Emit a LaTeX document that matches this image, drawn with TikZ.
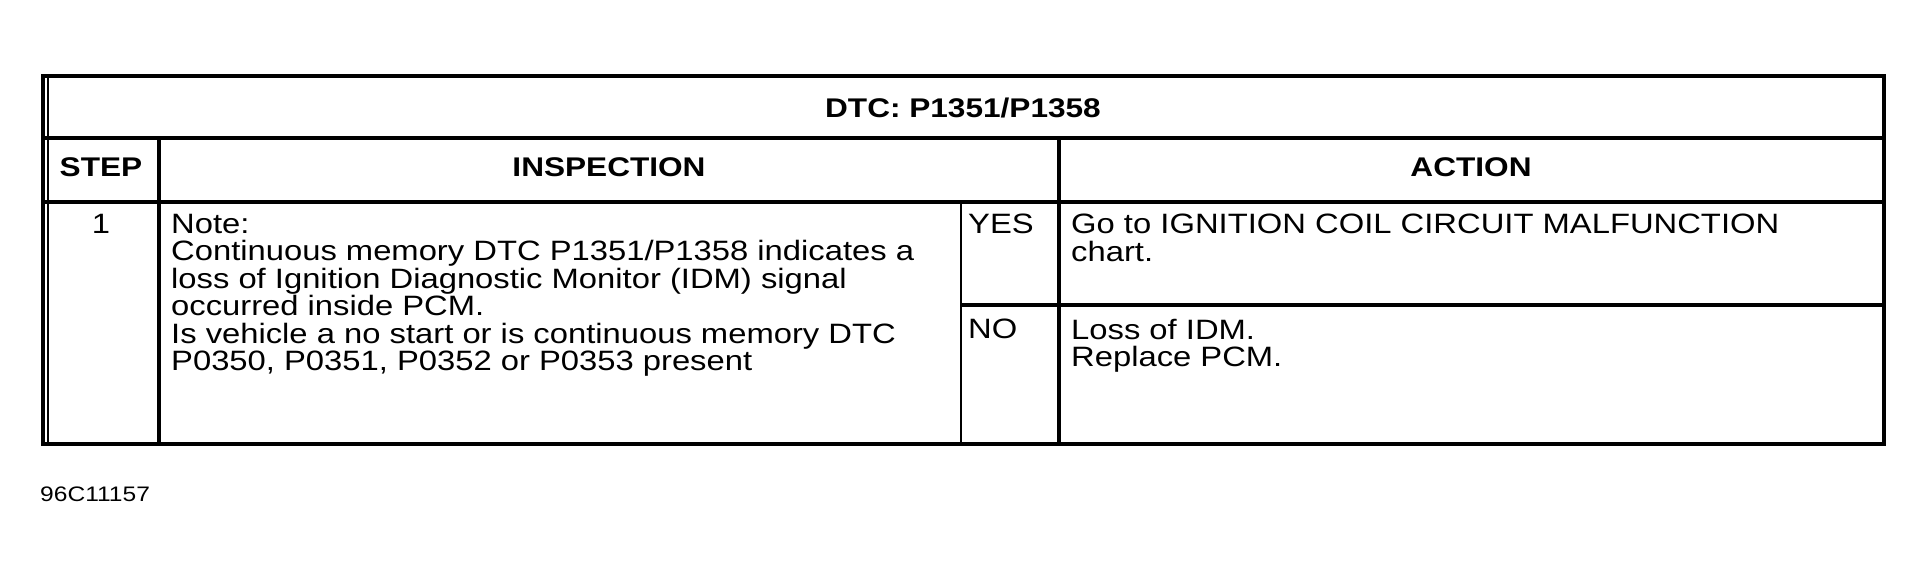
\documentclass[tikz,border=0pt]{standalone}
\usepackage{fontspec}
\setmainfont{Liberation Sans}
\newfontfamily\wide[FakeStretch=1.17]{Liberation Sans}
\begin{document}
\begin{tikzpicture}[x=1pt,y=-1pt,
  rule/.style={line width=3.4pt},
  txt/.style={inner sep=0pt,anchor=north west,align=left,font=\wide\fontsize{28}{27.5}\selectfont},
  hdr/.style={inner sep=0pt,font=\wide\bfseries\fontsize{27}{27}\selectfont}]
\useasboundingbox[fill=white] (0,0) rectangle (1922,573);
\draw[rule] (43,76) rectangle (1884,444);
\draw[line width=1.2pt] (48,76) -- (48,444);
\draw[rule] (43,138) -- (1884,138);
\draw[rule] (43,202) -- (1884,202);
\draw[rule] (159,138) -- (159,444);
\draw[rule] (1059,138) -- (1059,444);
\draw[line width=2pt] (961,202) -- (961,444);
\draw[rule] (961,305) -- (1884,305);
\node[hdr] (t) at (963,108) {DTC: P1351/P1358};
\node[hdr] (s) at (101,167) {STEP};
\node[hdr] (i) at (609,167) {INSPECTION};
\node[hdr] (a) at (1471,167) {ACTION};
\node[txt,anchor=north] (n1) at (101,214) {1};
\node[txt] (insp) at (171,214) {Note:\\Continuous memory DTC P1351/P1358 indicates a\\loss of Ignition Diagnostic Monitor (IDM) signal\\occurred inside PCM.\\Is vehicle a no start or is continuous memory DTC\\P0350, P0351, P0352 or P0353 present};
\node[txt] (yes) at (968,214) {YES};
\node[txt] (no) at (968,319) {NO};
\node[txt] (ya) at (1071,214) {Go to IGNITION COIL CIRCUIT MALFUNCTION\\chart.};
\node[txt] (na) at (1071,319) {Loss of IDM.\\Replace PCM.};
\node[inner sep=0pt,anchor=north west,font=\wide\fontsize{21}{22}\selectfont] (f) at (40,487) {96C11157};
\end{tikzpicture}
\end{document}
